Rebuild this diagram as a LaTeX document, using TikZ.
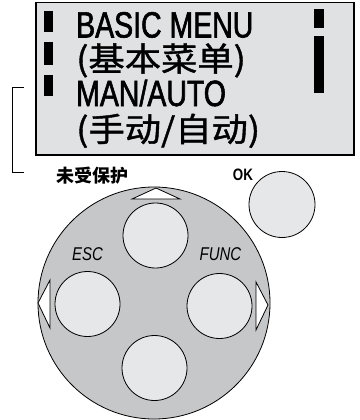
\documentclass[tikz,border=0pt]{standalone}
\usepackage{fontspec}
\setmainfont[FakeStretch=0.81]{Liberation Sans}
\newfontfamily\heavy[FakeStretch=0.78, FakeBold=1.6]{Liberation Sans}
\newfontfamily\cjk{Noto Sans CJK SC}
\newfontfamily\cjkheavy[FakeBold=1.2, FakeStretch=1.1]{Noto Sans CJK SC}
\definecolor{screenfill}{HTML}{E0E1E3}
\definecolor{padfill}{HTML}{C6C7C9}
\definecolor{btnfill}{HTML}{E6E7E9}
\tikzset{
  bigtext/.style={anchor=base west, inner sep=0pt, text height=27pt, text depth=1pt, font=\fontsize{36.5}{40}\selectfont\heavy},
  cjktext/.style={anchor=base west, inner sep=0pt, text height=29pt, text depth=5pt, font=\fontsize{33}{38}\selectfont\cjkheavy},
  bar/.style={fill=black, draw=none},
  btn/.style={circle, draw=black, line width=0.8pt, fill=btnfill, minimum size=65pt, inner sep=0pt},
  arrowtri/.style={draw=black, line width=0.8pt, fill=white, line join=miter},
  lbl/.style={inner sep=0pt}
}
\begin{document}
\begin{tikzpicture}[x=1pt, y=-1pt]
\useasboundingbox (0,0) rectangle (359,420);
% screen
\draw[fill=screenfill, line width=1.1pt] (36,2.5) rectangle (354,155) node[pos=0.5] (screen) {};
\fill[bar] (44,11) rectangle (53,32);
\fill[bar] (44,42) rectangle (53,65);
\fill[bar] (44,75) rectangle (53,96);
\fill[bar] (314,9) rectangle (324,28);
\fill[bar] (314,36) rectangle (324,93);
\node[bigtext] (l1) at (76,37.5) {BASIC MENU};
\node[cjktext] (l2) at (76,71) {(基本菜单)};
\node[bigtext] (l3) at (76,106) {MAN/AUTO};
\node[cjktext] (l4) at (76,141.5) {(手动/自动)};
% bracket
\coordinate (bt) at (24,87);
\coordinate (bb) at (24,172);
\draw[line width=0.8pt] (bt) -- (12,87) -- (12,172) -- (bb);
% labels
\node[lbl, font=\fontsize{18}{20}\selectfont\cjk\bfseries] (unprot) at (92,175.5) {未受保护};
\node[lbl, font=\fontsize{16.5}{18}\selectfont\bfseries] (ok) at (243,175) {OK};
% OK button
\node[btn, minimum size=66pt] (okbtn) at (282,204.5) {};
% pad
\node[circle, draw=black, line width=0.8pt, fill=padfill, minimum size=232pt, inner sep=0pt] (pad) at (154,303) {};
\node[btn] (up) at (155.5,235.5) {};
\node[btn] (left) at (87.5,304) {};
\node[btn] (right) at (219.5,306) {};
\node[btn] (down) at (154.5,368) {};
\draw[arrowtri] (132,199) -- (156,188) -- (180,199) -- cycle;
\draw[arrowtri] (50,280) -- (38,303) -- (50,328) -- cycle;
\draw[arrowtri] (256,282) -- (268,305) -- (256,330) -- cycle;
\node[lbl, font=\fontsize{18.5}{20}\selectfont\itshape] (esc) at (87.5,254) {ESC};
\node[lbl, font=\fontsize{18.5}{20}\selectfont\itshape] (func) at (220.5,254) {FUNC};
\end{tikzpicture}
\end{document}
